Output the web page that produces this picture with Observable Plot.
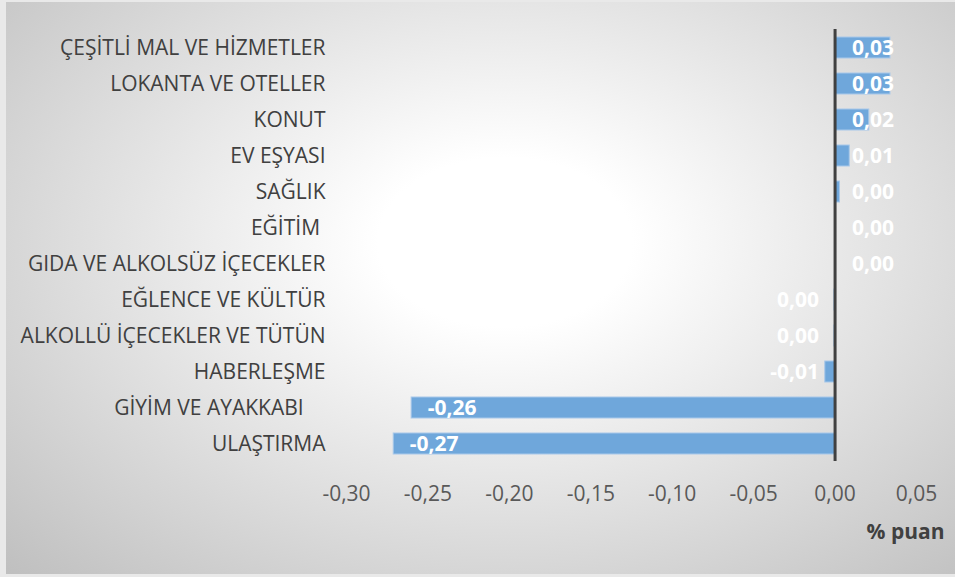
<!DOCTYPE html>
<html>
<head>
<meta charset="utf-8">
<script src="https://cdn.jsdelivr.net/npm/d3@7"></script>
<script src="https://cdn.jsdelivr.net/npm/@observablehq/plot@0.6"></script>
<style>
  html, body { margin: 0; padding: 0; }
  body { width: 955px; height: 577px; overflow: hidden; background: #e9e9e9; }
  #wrap { position: relative; width: 955px; height: 577px; }
  #bg { position: absolute; left: 6px; top: 2px; width: 960px; height: 572px;
        background: radial-gradient(ellipse farthest-corner at 52% 42%, #ffffff 0%, #ffffff 18%, #bfbfbf 100%); }
  #chart { position: absolute; left: 0; top: 0; }
  #chart svg { background: transparent; }
</style>
</head>
<body>
<div id="wrap"><div id="bg"></div><div id="chart"></div></div>
<script>
const categories = [
  "ÇEŞİTLİ MAL VE HİZMETLER",
  "LOKANTA VE OTELLER",
  "KONUT",
  "EV EŞYASI",
  "SAĞLIK",
  "EĞİTİM\u00a0",
  "GIDA VE ALKOLSÜZ İÇECEKLER",
  "EĞLENCE VE KÜLTÜR",
  "ALKOLLÜ İÇECEKLER VE TÜTÜN",
  "HABERLEŞME",
  "GİYİM VE AYAKKABI\u00a0\u00a0\u00a0\u00a0",
  "ULAŞTIRMA"
];
const values = [0.034, 0.034, 0.021, 0.009, 0.003, 0.0, 0.0004, -0.0004, -0.0004, -0.006, -0.260, -0.271];
const xTicks = [-0.30, -0.25, -0.20, -0.15, -0.10, -0.05, 0.00, 0.05];
const unitLabel = "% puan";

const data = categories.map((c, i) => ({cat: c, v: values[i]}));
const fmt = v => {
  let s = d3.format(".2f")(v).replace("−", "-");
  if (s === "-0.00") s = "0.00";
  return s.replace(".", ",");
};
const tickFmt = d => d3.format(".2f")(d).replace("−", "-").replace(".", ",");
const posLab = data.filter(d => d.v >= 0);
const smallNeg = data.filter(d => d.v < 0 && d.v > -0.05);
const bigNeg = data.filter(d => d.v <= -0.05);
const font = "'Open Sans', sans-serif";
const fs = 21;

const chart = Plot.plot({
  width: 955,
  height: 577,
  marginLeft: 346,
  marginRight: 39,
  marginTop: 29,
  marginBottom: 116,
  style: {fontFamily: font, fontSize: fs + "px", background: "transparent"},
  x: {domain: [-0.30, 0.05], ticks: xTicks, tickFormat: tickFmt, label: null},
  y: {domain: categories, paddingInner: 0.42, paddingOuter: 0.21, label: null},
  marks: [
    Plot.axisX({ticks: xTicks, tickSize: 0, tickPadding: 25, tickFormat: tickFmt, fill: "#595959", fontSize: fs, label: null}),
    Plot.axisY({tickSize: 0, tickPadding: 21, fill: "#404040", fontSize: fs, label: null}),
    Plot.barX(data, {x: "v", y: "cat", fill: "#6fa7db", stroke: "#a8c8ea", strokeWidth: 1}),
    Plot.ruleX([0], {stroke: "#404040", strokeWidth: 3}),
    Plot.text(posLab, {x: 0, y: "cat", text: d => fmt(d.v), textAnchor: "start", dx: 17, fill: "white", fontWeight: "bold", fontSize: fs}),
    Plot.text(smallNeg, {x: 0, y: "cat", text: d => fmt(d.v), textAnchor: "end", dx: -16, fill: "white", fontWeight: "bold", fontSize: fs}),
    Plot.text(bigNeg, {x: "v", y: "cat", text: d => fmt(d.v), textAnchor: "start", dx: 16, fill: "white", fontWeight: "bold", fontSize: fs}),
    Plot.text([unitLabel], {frameAnchor: "bottom-right", text: d => d, textAnchor: "end", dx: 28, dy: 77, fill: "#404040", fontWeight: "bold", fontSize: fs})
  ]
});
document.getElementById("chart").appendChild(chart);
</script>
</body>
</html>
